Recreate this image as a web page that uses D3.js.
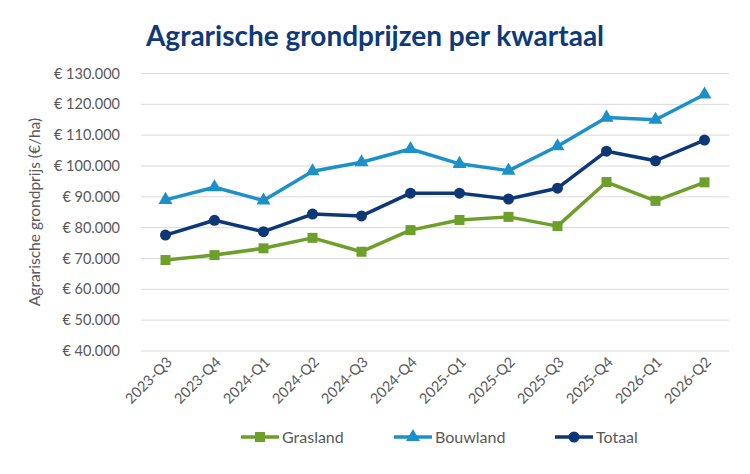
<!DOCTYPE html>
<html lang="nl">
<head>
<meta charset="utf-8">
<title>Agrarische grondprijzen per kwartaal</title>
<script src="https://d3js.org/d3.v7.min.js"></script>
<style>
  body { margin: 0; background: #fff; }
  text { font-family: Lato, "Open Sans", sans-serif; }
</style>
</head>
<body>
<svg id="chart"></svg>
<script>
// kwartalen en prijzen (euro per hectare)
const quarters = ['2023-Q3','2023-Q4','2024-Q1','2024-Q2','2024-Q3','2024-Q4',
                  '2025-Q1','2025-Q2','2025-Q3','2025-Q4','2026-Q1','2026-Q2'];
const grasland = [69500, 71100, 73300, 76700, 72200, 79200, 82500, 83500, 80500, 94800, 88700, 94700];
const bouwland = [89000, 93100, 88800, 98300, 101200, 105500, 100700, 98500, 106400, 115700, 115000, 123200];
const totaal   = [77600, 82400, 78700, 84400, 83800, 91200, 91200, 89300, 92800, 104800, 101700, 108400];
const yTicks = [40000, 50000, 60000, 70000, 80000, 90000, 100000, 110000, 120000, 130000];

const series = [
  { name: 'Grasland', values: grasland, color: '#6d9f2b', symbol: d3.symbolSquare, size: 100 },
  { name: 'Bouwland', values: bouwland, color: '#1c90cb', symbol: d3.symbolTriangle, size: 85 },
  { name: 'Totaal',   values: totaal,   color: '#0d3777', symbol: d3.symbolCircle, size: 95 }
];

const width = 750, height = 474;
const margin = { left: 141, right: 21, top: 73.5, bottom: 123 };

const svg = d3.select('#chart').attr('width', width).attr('height', height);

const x = d3.scalePoint()
  .domain(quarters)
  .range([margin.left, width - margin.right])
  .padding(0.5);

const y = d3.scaleLinear()
  .domain([40000, 130000])
  .range([height - margin.bottom, margin.top]);

const fmt = d => '€ ' + d3.format(',')(d).replace(/,/g, '.');

// gridlijnen
svg.append('g')
  .selectAll('line')
  .data(yTicks)
  .join('line')
  .attr('x1', margin.left)
  .attr('x2', width - margin.right)
  .attr('y1', d => y(d))
  .attr('y2', d => y(d))
  .attr('stroke', '#d9d9d9')
  .attr('stroke-width', 1);

// y-as
const yAxis = svg.append('g')
  .attr('transform', 'translate(' + margin.left + ',0)')
  .call(d3.axisLeft(y).tickValues(yTicks).tickFormat(fmt).tickSize(0).tickPadding(21));
yAxis.select('.domain').remove();
yAxis.selectAll('text')
  .attr('fill', '#595959')
  .style('font-size', '14.5px')
  .style('font-family', 'Lato, "Open Sans", sans-serif');

// x-as
const xAxis = svg.append('g')
  .attr('transform', 'translate(0,' + (height - margin.bottom) + ')')
  .call(d3.axisBottom(x).tickSize(0));
xAxis.select('.domain').remove();
xAxis.selectAll('text')
  .attr('fill', '#595959')
  .style('font-size', '14.5px')
  .style('font-family', 'Lato, "Open Sans", sans-serif')
  .attr('text-anchor', 'end')
  .attr('dy', null)
  .attr('y', 0)
  .attr('transform', 'translate(7,12) rotate(-45)');

// as-titel
svg.append('text')
  .attr('transform', 'translate(40,212) rotate(-90)')
  .attr('text-anchor', 'middle')
  .attr('fill', '#595959')
  .style('font-size', '15.5px')
  .text('Agrarische grondprijs (€/ha)');

// titel
svg.append('text')
  .attr('x', 375)
  .attr('y', 46)
  .attr('text-anchor', 'middle')
  .attr('fill', '#0f3a79')
  .style('font-size', '28px')
  .style('font-weight', 'bold')
  .text('Agrarische grondprijzen per kwartaal');

// lijnen en markers
const line = d3.line()
  .x((d, i) => x(quarters[i]))
  .y(d => y(d));

series.forEach(s => {
  const g = svg.append('g');
  g.append('path')
    .attr('d', line(s.values))
    .attr('fill', 'none')
    .attr('stroke', s.color)
    .attr('stroke-width', 3.5)
    .attr('stroke-linejoin', 'round');
  g.selectAll('path.marker')
    .data(s.values)
    .join('path')
    .attr('class', 'marker')
    .attr('d', d3.symbol().type(s.symbol).size(s.size))
    .attr('transform', (d, i) => 'translate(' + x(quarters[i]) + ',' + y(d) + ')')
    .attr('fill', s.color);
});

// legenda
const legendX = [241, 394, 555];
const legend = svg.append('g')
  .selectAll('g')
  .data(series)
  .join('g')
  .attr('transform', (d, i) => 'translate(' + legendX[i] + ',437)');
legend.append('line')
  .attr('x1', 0).attr('x2', 38)
  .attr('stroke', d => d.color)
  .attr('stroke-width', 3.5);
legend.append('path')
  .attr('d', d => d3.symbol().type(d.symbol).size(d.size)())
  .attr('transform', 'translate(19,0)')
  .attr('fill', d => d.color);
legend.append('text')
  .attr('x', 41)
  .attr('y', 5.5)
  .attr('fill', '#595959')
  .style('font-size', '16px')
  .text(d => d.name);
</script>
</body>
</html>
